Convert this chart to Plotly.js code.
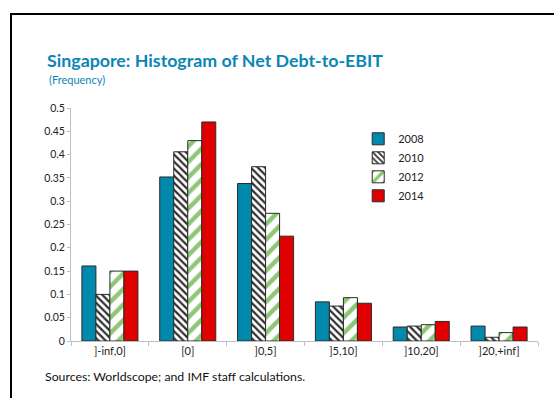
<!DOCTYPE html>
<html>
<head>
<meta charset="utf-8">
<script src="https://cdn.plot.ly/plotly-3.0.1.min.js"></script>
<style>
  html, body { margin: 0; padding: 0; background: #fff; }
  #wrap { position: relative; width: 554px; height: 398px; overflow: hidden; }
  #chart { position: absolute; left: 0; top: 0; width: 554px; height: 398px; }
  #frame { position: absolute; left: 10px; top: 13px; width: 560px; height: 400px;
           border-left: 2px solid #000; border-top: 2px solid #000; pointer-events: none; }
</style>
</head>
<body>
<div id="wrap">
  <div id="chart"></div>
  <div id="frame"></div>
</div>
<script>
const categories = [']-inf,0]', '[0]', ']0,5]', ']5,10]', ']10,20]', ']20,+inf]'];
const years = ['2008', '2010', '2012', '2014'];
const v2008 = [0.161, 0.352, 0.338, 0.084, 0.030, 0.032];
const v2010 = [0.100, 0.406, 0.374, 0.075, 0.032, 0.008];
const v2012 = [0.150, 0.430, 0.274, 0.093, 0.035, 0.018];
const v2014 = [0.150, 0.470, 0.225, 0.081, 0.042, 0.030];
const yTicks = [0, 0.05, 0.1, 0.15, 0.2, 0.25, 0.3, 0.35, 0.4, 0.45, 0.5];
const yTickText = ['0', '0.05', '0.1', '0.15', '0.2', '0.25', '0.3', '0.35', '0.4', '0.45', '0.5'];

const outline = {color: '#2a2a2a', width: 1};
const traces = [
  {name: years[0], y: v2008, marker: {color: '#0088ad', line: outline}},
  {name: years[1], y: v2010, marker: {color: '#ffffff', line: outline,
     pattern: {shape: '\\', fgcolor: '#303030', bgcolor: '#ffffff', size: 5, solidity: 0.45}}},
  {name: years[2], y: v2012, marker: {color: '#ffffff', line: outline,
     pattern: {shape: '/', fgcolor: '#8cc873', bgcolor: '#ffffff', size: 11, solidity: 0.4}}},
  {name: years[3], y: v2014, marker: {color: '#e00000', line: outline}}
].map(t => Object.assign({type: 'bar', x: categories, hoverinfo: 'skip'}, t));

const layout = {
  width: 554, height: 398,
  margin: {l: 71, r: 16, t: 108, b: 57},
  paper_bgcolor: '#ffffff', plot_bgcolor: '#ffffff',
  font: {family: 'Lato, "Open Sans", sans-serif', size: 11, color: '#222'},
  barmode: 'group', bargap: 0.28, bargroupgap: 0,
  showlegend: true,
  title: {
    text: '<b>Singapore: Histogram of Net Debt-to-EBIT</b>',
    font: {family: 'Lato, "Open Sans", sans-serif', size: 17.8, color: '#0a86b4'},
    xref: 'container', yref: 'container', x: 47 / 554, xanchor: 'left',
    y: 1 - 61 / 398, yanchor: 'middle'
  },
  xaxis: {
    type: 'category', showgrid: false, zeroline: false,
    showline: true, linecolor: '#bfbfbf', linewidth: 1,
    ticks: 'outside', tickson: 'boundaries', ticklen: 4, tickcolor: '#bfbfbf',
    tickfont: {size: 11, color: '#222'}, fixedrange: true
  },
  yaxis: {
    range: [0, 0.5], tickvals: yTicks, ticktext: yTickText,
    showgrid: false, zeroline: false,
    showline: true, linecolor: '#bfbfbf', linewidth: 1,
    ticks: 'outside', ticklen: 3, tickcolor: '#bfbfbf',
    tickfont: {size: 10.5, color: '#222'}, fixedrange: true
  },
  legend: {
    x: 0.615, y: 0.93, xanchor: 'left', yanchor: 'top',
    bgcolor: 'rgba(0,0,0,0)', font: {size: 11, color: '#222'},
    itemwidth: 30, tracegroupgap: 0
  },
  annotations: [
    {text: '(Frequency)', xref: 'paper', yref: 'paper', x: -0.0514, y: 1.124,
     xanchor: 'left', yanchor: 'middle', showarrow: false,
     font: {size: 11, color: '#0a86b4'}},
    {text: 'Sources: Worldscope; and IMF staff calculations.', xref: 'paper', yref: 'paper',
     x: -0.06, y: -0.152, xanchor: 'left', yanchor: 'middle', showarrow: false,
     font: {size: 12.3, color: '#111'}}
  ]
};

Plotly.newPlot('chart', traces, layout, {displayModeBar: false, staticPlot: true});
</script>
</body>
</html>
